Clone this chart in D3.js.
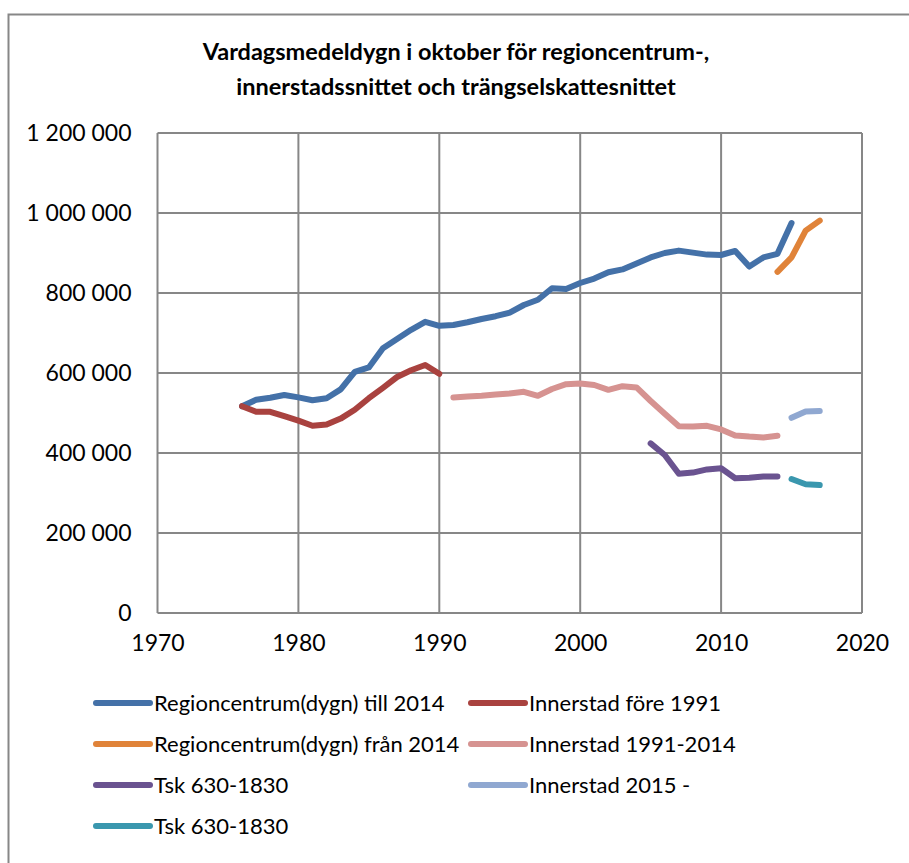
<!DOCTYPE html>
<html>
<head>
<meta charset="utf-8">
<script src="https://cdn.jsdelivr.net/npm/d3@7"></script>
<style>
  body { margin: 0; background: #fff; }
  text { font-family: Lato, "Open Sans", sans-serif; fill: #000; }
</style>
</head>
<body>
<div id="chart"></div>
<script>
// Chart setup
const width = 909;
const height = 863;

const svg = d3.select('#chart')
  .append('svg')
  .attr('width', width)
  .attr('height', height);

// Data
const regionYears = [1976, 1977, 1978, 1979, 1980, 1981, 1982, 1983, 1984, 1985, 1986, 1987, 1988, 1989, 1990,
  1991, 1992, 1993, 1994, 1995, 1996, 1997, 1998, 1999, 2000, 2001, 2002, 2003, 2004, 2005,
  2006, 2007, 2008, 2009, 2010, 2011, 2012, 2013, 2014, 2015];
const regionValues = [517000, 533000, 538000, 545000, 539000, 532000, 537000, 559000, 603000, 614000, 662000, 685000, 708000, 728000, 718000,
  720000, 727000, 735000, 742000, 751000, 770000, 783000, 812000, 810000, 825000, 836000, 852000, 859000, 874000, 889000,
  900000, 906000, 901000, 896000, 895000, 905000, 866000, 889000, 898000, 975000];

const regionNewYears = [2014, 2015, 2016, 2017];
const regionNewValues = [853000, 889000, 956000, 981000];

const innerOldYears = [1976, 1977, 1978, 1979, 1980, 1981, 1982, 1983, 1984, 1985, 1986, 1987, 1988, 1989, 1990];
const innerOldValues = [517000, 503000, 503000, 492000, 481000, 468000, 471000, 486000, 508000, 537000, 563000, 590000, 607000, 620000, 598000];

const innerMidYears = [1991, 1992, 1993, 1994, 1995, 1996, 1997, 1998, 1999, 2000, 2001, 2002,
  2003, 2004, 2005, 2006, 2007, 2008, 2009, 2010, 2011, 2012, 2013, 2014];
const innerMidValues = [539000, 541000, 543000, 546000, 549000, 553000, 543000, 560000, 572000, 574000, 570000, 558000,
  567000, 564000, 530000, 498000, 467000, 466000, 468000, 459000, 444000, 441000, 439000, 443000];

const innerNewYears = [2015, 2016, 2017];
const innerNewValues = [488000, 504000, 505000];

const tskYears = [2005, 2006, 2007, 2008, 2009, 2010, 2011, 2012, 2013, 2014];
const tskValues = [424000, 395000, 348000, 351000, 359000, 362000, 337000, 338000, 341000, 341000];

const tskNewYears = [2015, 2016, 2017];
const tskNewValues = [335000, 322000, 320000];

const xTicks = [1970, 1980, 1990, 2000, 2010, 2020];
const yTicks = [0, 200000, 400000, 600000, 800000, 1000000, 1200000];

const titleLines = ['Vardagsmedeldygn i oktober för regioncentrum-,', 'innerstadssnittet och trängselskattesnittet'];

// series table built from the arrays above (legend order)
const series = [
  { name: 'Regioncentrum(dygn) till 2014', color: '#4471A8', years: regionYears, values: regionValues },
  { name: 'Innerstad före 1991', color: '#A9423F', years: innerOldYears, values: innerOldValues },
  { name: 'Regioncentrum(dygn) från 2014', color: '#E08339', years: regionNewYears, values: regionNewValues },
  { name: 'Innerstad 1991-2014', color: '#D69391', years: innerMidYears, values: innerMidValues },
  { name: 'Tsk 630-1830', color: '#6A5390', years: tskYears, values: tskValues },
  { name: 'Innerstad 2015 -', color: '#90A8D1', years: innerNewYears, values: innerNewValues },
  { name: 'Tsk 630-1830', color: '#3A97AE', years: tskNewYears, values: tskNewValues }
];

// Scales
const x = d3.scaleLinear().domain([1970, 2020]).range([157.5, 862]);
const y = d3.scaleLinear().domain([0, 1200000]).range([613, 133]);

const fmt = v => d3.format(',')(v).replace(/,/g, ' ');

// outer frame
svg.append('rect')
  .attr('x', 8.5)
  .attr('y', 14.5)
  .attr('width', 920)
  .attr('height', 870)
  .attr('fill', 'none')
  .attr('stroke', '#878787')
  .attr('stroke-width', 2);

// Title
svg.append('g')
  .selectAll('text')
  .data(titleLines)
  .enter().append('text')
  .attr('x', 456)
  .attr('y', (d, i) => 60 + i * 35)
  .attr('text-anchor', 'middle')
  .style('font-size', '23.5px')
  .style('font-weight', 'bold')
  .text(d => d);

// Grid
const grid = svg.append('g').attr('class', 'grid');
grid.selectAll('line.h')
  .data(yTicks)
  .enter().append('line')
  .attr('class', 'h')
  .attr('x1', x(1970)).attr('x2', x(2020))
  .attr('y1', d => y(d)).attr('y2', d => y(d))
  .attr('stroke', '#878787')
  .attr('stroke-width', 2);

grid.selectAll('line.v')
  .data(xTicks)
  .enter().append('line')
  .attr('class', 'v')
  .attr('x1', d => x(d)).attr('x2', d => x(d))
  .attr('y1', y(0)).attr('y2', y(1200000))
  .attr('stroke', '#878787')
  .attr('stroke-width', 2);

// Axes
const yAxis = svg.append('g')
  .attr('transform', `translate(${x(1970)},0)`)
  .call(d3.axisLeft(y).tickValues(yTicks).tickFormat(fmt).tickSize(0).tickPadding(26));
yAxis.select('.domain').remove();
yAxis.selectAll('text')
  .style('font-family', 'Lato, "Open Sans", sans-serif')
  .style('font-size', '23px')
  .attr('fill', '#000');

const xAxis = svg.append('g')
  .attr('transform', `translate(0,${y(0)})`)
  .call(d3.axisBottom(x).tickValues(xTicks).tickFormat(d3.format('d')).tickSize(0).tickPadding(22));
xAxis.select('.domain').remove();
xAxis.selectAll('text')
  .style('font-family', 'Lato, "Open Sans", sans-serif')
  .style('font-size', '23px')
  .attr('fill', '#000');

// Lines
const line = d3.line()
  .x(d => x(d[0]))
  .y(d => y(d[1]));

svg.append('g')
  .attr('class', 'lines')
  .selectAll('path')
  .data(series)
  .enter().append('path')
  .attr('d', d => line(d3.zip(d.years, d.values)))
  .attr('fill', 'none')
  .attr('stroke', d => d.color)
  .attr('stroke-width', 6)
  .attr('stroke-linecap', 'round')
  .attr('stroke-linejoin', 'round');

// Legend: two columns, filled row by row
const legend = svg.append('g')
  .attr('class', 'legend')
  .selectAll('g')
  .data(series)
  .enter().append('g')
  .attr('transform', (d, i) => `translate(${i % 2 === 0 ? 96 : 471},${703 + Math.floor(i / 2) * 41})`);

legend.append('line')
  .attr('x1', 0).attr('x2', 54)
  .attr('y1', 0).attr('y2', 0)
  .attr('stroke', d => d.color)
  .attr('stroke-width', 6)
  .attr('stroke-linecap', 'round');

legend.append('text')
  .attr('x', 58)
  .attr('y', 8)
  .style('font-size', '22px')
  .text(d => d.name);
</script>
</body>
</html>
